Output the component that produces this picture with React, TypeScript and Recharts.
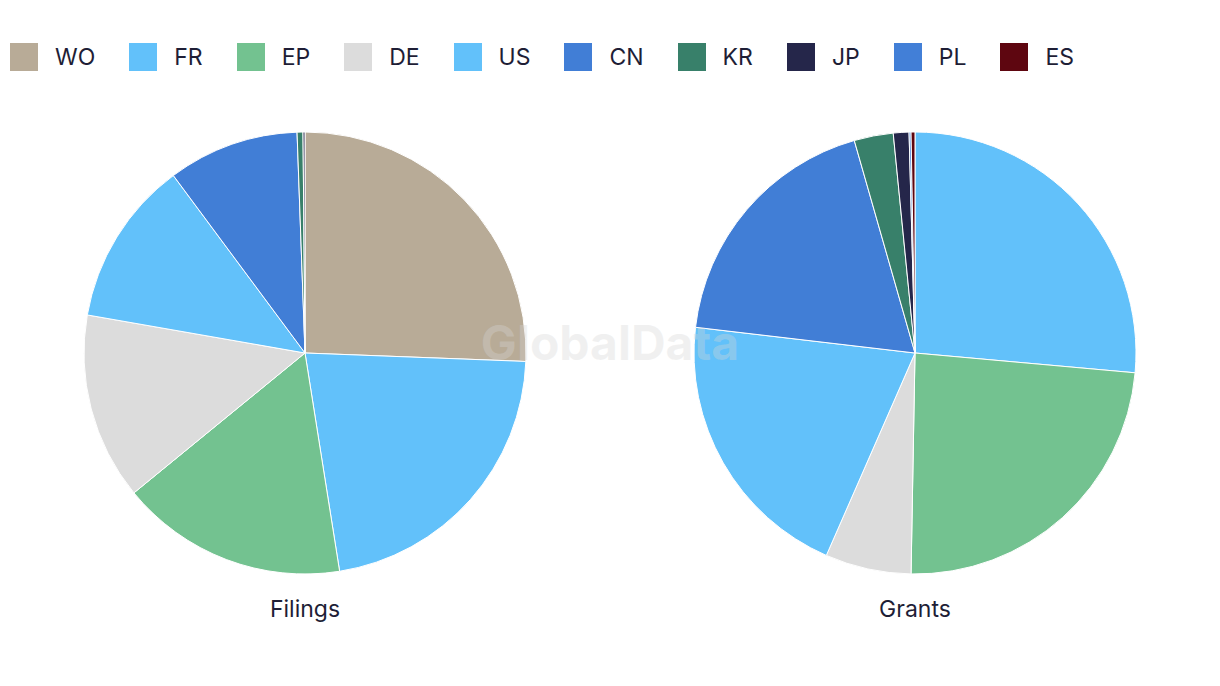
import React from 'react';
import { PieChart, Pie, Cell, Customized } from 'recharts';

const categories = ['WO', 'FR', 'EP', 'DE', 'US', 'CN', 'KR', 'JP', 'PL', 'ES'];
const colors = ['#B8AB97', '#62C1FA', '#73C290', '#DCDCDC', '#62C1FA', '#417ED6', '#38806A', '#25264A', '#427FD7', '#5E0610'];
const filings = [358, 306, 232, 191, 169, 134, 6, 2, 0, 0];
const grants = [0, 185, 167, 44, 142, 131, 20, 8, 1, 2];
const pieTitles = ['Filings', 'Grants'];
const watermark = 'GlobalData';

const FONT = 'Inter, Roboto, sans-serif';
const TEXT = '#1E1E36';

const build = (vals: number[]) =>
  categories
    .map((name, i) => ({ name, value: vals[i], color: colors[i] }))
    .filter((d) => d.value > 0);

const filingsData = build(filings);
const grantsData = build(grants);

const W = 1204;
const H = 670;
const CY = 345;
const R = 221;
const CX1 = 297;
const CX2 = 907;

const LegendContent = () => (
  <div
    style={{
      position: 'absolute',
      top: 35,
      left: 2,
      display: 'flex',
      alignItems: 'center',
      fontFamily: FONT,
      fontSize: 23,
      color: TEXT,
      whiteSpace: 'nowrap',
    }}
  >
    {categories.map((c, i) => (
      <div key={c} style={{ display: 'flex', alignItems: 'center', marginRight: 34 }}>
        <div style={{ width: 28, height: 28, background: colors[i], marginRight: 17 }} />
        <span style={{ lineHeight: '28px' }}>{c}</span>
      </div>
    ))}
  </div>
);

const Titles = () => (
  <g>
    <text x={CX1} y={609} textAnchor="middle" fontFamily={FONT} fontSize={23} fill={TEXT}>
      {pieTitles[0]}
    </text>
    <text x={CX2} y={609} textAnchor="middle" fontFamily={FONT} fontSize={23} fill={TEXT}>
      {pieTitles[1]}
    </text>
  </g>
);

const Watermark = () => (
  <svg
    width={W}
    height={H}
    style={{ position: 'absolute', top: 0, left: 0, pointerEvents: 'none' }}
  >
    <text
      x={602}
      y={352}
      textAnchor="middle"
      fontFamily="Inter, sans-serif"
      fontWeight={700}
      fontSize={48}
      fill="#d6d6d6"
      fillOpacity={0.35}
    >
      {watermark}
    </text>
  </svg>
);

export default function App() {
  return (
    <div style={{ position: 'relative', width: W, height: H }}>
      <PieChart width={W} height={H} margin={{ top: 0, right: 0, bottom: 0, left: 0 }}>
        <Pie
          data={filingsData}
          dataKey="value"
          nameKey="name"
          cx={CX1}
          cy={CY}
          outerRadius={R}
          startAngle={90}
          endAngle={-270}
          stroke="#ffffff"
          strokeWidth={1}
          isAnimationActive={false}
        >
          {filingsData.map((d) => (
            <Cell key={d.name} fill={d.color} />
          ))}
        </Pie>
        <Pie
          data={grantsData}
          dataKey="value"
          nameKey="name"
          cx={CX2}
          cy={CY}
          outerRadius={R}
          startAngle={90}
          endAngle={-270}
          stroke="#ffffff"
          strokeWidth={1}
          isAnimationActive={false}
        >
          {grantsData.map((d) => (
            <Cell key={d.name} fill={d.color} />
          ))}
        </Pie>
        <Customized component={Titles} />
      </PieChart>
      <LegendContent />
      <Watermark />
    </div>
  );
}
